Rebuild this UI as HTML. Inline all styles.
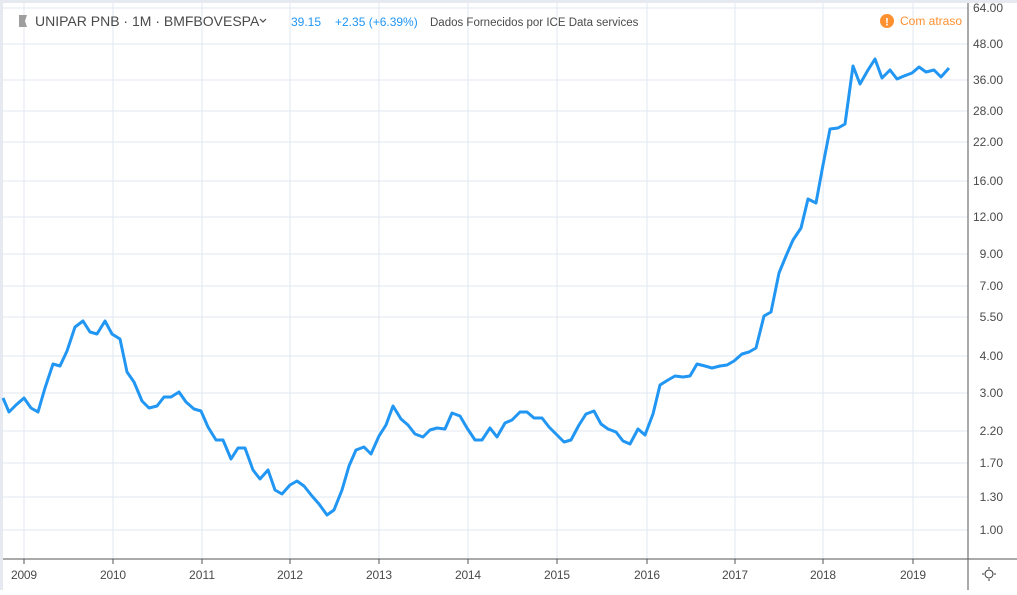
<!DOCTYPE html>
<html><head><meta charset="utf-8"><style>
body{margin:0;background:#fff;width:1017px;height:590px;overflow:hidden;font-family:"Liberation Sans",sans-serif}
</style></head><body>
<svg width="1017" height="590" xmlns="http://www.w3.org/2000/svg" font-family="Liberation Sans, sans-serif">
<rect width="1017" height="590" fill="#fff"/>
<rect x="0" y="0" width="1017" height="3" fill="#e6e9ef"/>
<rect x="0" y="0" width="3" height="590" fill="#e6e9ef"/>
<g stroke="#e1e8f1" stroke-width="1">
<line x1="24" y1="3" x2="24" y2="559"/><line x1="113" y1="3" x2="113" y2="559"/><line x1="202" y1="3" x2="202" y2="559"/><line x1="290" y1="3" x2="290" y2="559"/><line x1="379" y1="3" x2="379" y2="559"/><line x1="468" y1="3" x2="468" y2="559"/><line x1="557" y1="3" x2="557" y2="559"/><line x1="647" y1="3" x2="647" y2="559"/><line x1="735" y1="3" x2="735" y2="559"/><line x1="823" y1="3" x2="823" y2="559"/><line x1="913" y1="3" x2="913" y2="559"/>
<line x1="3" y1="8" x2="968" y2="8"/><line x1="3" y1="44" x2="968" y2="44"/><line x1="3" y1="80" x2="968" y2="80"/><line x1="3" y1="111" x2="968" y2="111"/><line x1="3" y1="142" x2="968" y2="142"/><line x1="3" y1="181" x2="968" y2="181"/><line x1="3" y1="217" x2="968" y2="217"/><line x1="3" y1="254" x2="968" y2="254"/><line x1="3" y1="286" x2="968" y2="286"/><line x1="3" y1="317" x2="968" y2="317"/><line x1="3" y1="356" x2="968" y2="356"/><line x1="3" y1="393" x2="968" y2="393"/><line x1="3" y1="431" x2="968" y2="431"/><line x1="3" y1="463" x2="968" y2="463"/><line x1="3" y1="497" x2="968" y2="497"/><line x1="3" y1="530" x2="968" y2="530"/>
</g>
<line x1="3" y1="559" x2="1017" y2="559" stroke="#555" stroke-width="1"/>
<line x1="968" y1="3" x2="968" y2="590" stroke="#555" stroke-width="1"/>
<g stroke="#555"><line x1="24" y1="559" x2="24" y2="564"/><line x1="113" y1="559" x2="113" y2="564"/><line x1="202" y1="559" x2="202" y2="564"/><line x1="290" y1="559" x2="290" y2="564"/><line x1="379" y1="559" x2="379" y2="564"/><line x1="468" y1="559" x2="468" y2="564"/><line x1="557" y1="559" x2="557" y2="564"/><line x1="647" y1="559" x2="647" y2="564"/><line x1="735" y1="559" x2="735" y2="564"/><line x1="823" y1="559" x2="823" y2="564"/><line x1="913" y1="559" x2="913" y2="564"/></g>
<g font-size="12" fill="#4a4a4a" text-anchor="middle">
<text x="24" y="579" textLength="26">2009</text><text x="113" y="579" textLength="26">2010</text><text x="202" y="579" textLength="26">2011</text><text x="290" y="579" textLength="26">2012</text><text x="379" y="579" textLength="26">2013</text><text x="468" y="579" textLength="26">2014</text><text x="557" y="579" textLength="26">2015</text><text x="647" y="579" textLength="26">2016</text><text x="735" y="579" textLength="26">2017</text><text x="823" y="579" textLength="26">2018</text><text x="913" y="579" textLength="26">2019</text>
</g>
<g font-size="12" fill="#4a4a4a" text-anchor="end">
<text x="1003" y="12">64.00</text><text x="1003" y="48">48.00</text><text x="1003" y="84">36.00</text><text x="1003" y="115">28.00</text><text x="1003" y="146">22.00</text><text x="1003" y="185">16.00</text><text x="1003" y="221">12.00</text><text x="1003" y="258">9.00</text><text x="1003" y="290">7.00</text><text x="1003" y="321">5.50</text><text x="1003" y="360">4.00</text><text x="1003" y="397">3.00</text><text x="1003" y="435">2.20</text><text x="1003" y="467">1.70</text><text x="1003" y="501">1.30</text><text x="1003" y="534">1.00</text>
</g>
<g fill="none" stroke="#333" stroke-width="1"><circle cx="989" cy="574" r="4"/><line x1="989" y1="567" x2="989" y2="569"/><line x1="989" y1="579" x2="989" y2="581"/><line x1="982" y1="574" x2="984" y2="574"/><line x1="994" y1="574" x2="996" y2="574"/></g>
<polyline fill="none" stroke="#2196f3" stroke-width="3" stroke-linejoin="round" points="3,398 9,412 16,405 24,398 31,408 38,412 45,388 53,364 60,366 67,351 75,327 83,321 90,332 97,334 105,321 112,334 120,339 127,372 134,382 142,401 149,408 157,406 164,397 171,397 179,392 186,402 194,409 201,411 208,427 216,440 223,440 231,459 238,448 245,448 253,470 260,479 268,470 275,490 282,494 290,485 297,481 304,486 312,496 319,504 327,515 334,510 342,490 349,466 356,450 364,447 371,454 379,436 386,425 393,406 401,419 408,425 415,434 423,437 430,430 437,428 445,429 452,413 460,416 467,428 475,440 482,440 490,428 497,437 505,423 512,420 520,412 527,412 534,418 542,418 549,427 556,434 564,442 571,440 579,425 586,414 594,411 601,424 608,429 616,432 623,441 630,444 638,429 645,435 653,414 660,385 668,380 675,376 683,377 690,376 697,364 705,366 712,368 720,366 727,365 734,361 742,354 749,352 756,348 764,316 771,312 779,273 786,256 793,240 801,228 808,199 816,203 823,165 830,129 838,128 845,124 853,66 860,84 868,70 875,59 882,78 890,70 897,79 904,76 912,73 919,67 926,72 934,70 941,77 949,68"/>
<polygon points="19,15 27,15 25,21 27,27 19,27" fill="#9e9e9e"/>
<text x="35" y="26" font-size="14" fill="#4a4a4a">UNIPAR PNB · 1M · BMFBOVESPA</text>
<path d="M260 19 l3 3 l3 -3" stroke="#4a4a4a" fill="none" stroke-width="1.2"/>
<text x="291" y="26" font-size="12" fill="#2196f3">39.15</text>
<text x="335" y="26" font-size="12" fill="#2196f3">+2.35 (+6.39%)</text>
<text x="430" y="26" font-size="11.5" fill="#4a4a4a">Dados Fornecidos por ICE Data services</text>
<circle cx="887" cy="21" r="7" fill="#ff9030"/>
<text x="887" y="25.5" font-size="11" fill="#fff" text-anchor="middle" font-weight="bold">!</text>
<text x="900" y="25" font-size="12" fill="#ff9030">Com atraso</text>
</svg>
</body></html>
